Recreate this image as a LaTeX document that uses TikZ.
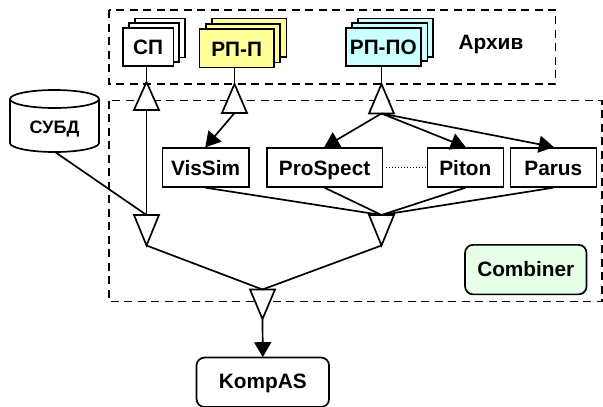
\documentclass[tikz,border=0pt]{standalone}
\usepackage{fontspec}
\setmainfont{Liberation Sans}
\usetikzlibrary{arrows.meta}
\definecolor{yelc}{HTML}{FFFF99}
\definecolor{cyac}{HTML}{CCFFFF}
\definecolor{grnc}{HTML}{E6FFE6}
\tikzset{
  x=1pt,y=-1pt,
  every node/.style={font=\bfseries\fontsize{20.8}{24}\selectfont,inner sep=0pt},
  ln/.style={line width=1.7pt,line join=miter},
  boxn/.style={draw,ln,fill=white,rectangle,text height=16pt,text depth=0pt},
  rbox/.style={draw,ln,rectangle,rounded corners=8pt,text height=13pt,text depth=0pt},
  grp/.style={draw,line width=1.5pt,dash pattern=on 8pt off 5.5pt},
  tri/.style={draw,ln,fill=white},
  conn/.style={ln},
  arr/.style={ln,-{Triangle[length=15pt,width=17pt]},shorten >=-0.5pt},
  yel/.style={fill=yelc},
  cya/.style={fill=cyac},
  grn/.style={fill=grnc}
}
\newcommand{\boxat}[7]{% name,left,top,right,bottom,style,text
  \node[boxn,#6,minimum width=#4pt-#2pt,minimum height=#5pt-#3pt,anchor=north west] (#1) at (#2,#3) {#7};}
\newcommand{\triup}[4]{% name,cx,apexy,basey
  \draw[tri] (#2-12.5,#4) -- (#2,#3) -- (#2+12.5,#4) -- cycle;
  \coordinate (#1a) at (#2,#3); \coordinate (#1b) at (#2,#4);}
\begin{document}
\begin{tikzpicture}
\useasboundingbox (0,0) rectangle (603,407);
% group frames
\draw[grp] (109,10) rectangle (555.5,84);
\draw[grp] (109,100.5) rectangle (602,301.5);
% document stacks
\boxat{sp3}{134}{17.5}{184}{56.5}{}{}
\boxat{sp2}{128}{22}{178}{61}{}{}
\boxat{sp}{122}{27}{172.5}{65}{}{СП}
\boxat{rpp3}{211}{17.5}{285.5}{56}{yel}{}
\boxat{rpp2}{205}{23}{279}{61.5}{yel}{}
\boxat{rpp}{198.5}{28}{273}{66.5}{yel}{РП-П}
\boxat{rpo3}{357}{17.5}{432}{56}{cya}{}
\boxat{rpo2}{351}{22}{426.5}{60}{cya}{}
\boxat{rpo}{345}{27}{420}{65}{cya}{РП-ПО}
\node (arch) at (491,45) {Архив};
% function boxes
\boxat{vis}{161.5}{147}{248}{186}{}{VisSim}
\boxat{pro}{266}{147}{381.5}{186}{}{ProSpect}
\boxat{pit}{426.5}{147}{502.5}{186}{}{Piton}
\boxat{par}{509.5}{147}{595.5}{186}{}{Parus}
\node[rbox,grn,minimum width=121.5pt,minimum height=49.5pt,anchor=north west] (comb) at (464.2,244) {Combiner};
\node[rbox,fill=white,minimum width=132.5pt,minimum height=49.5pt,anchor=north west] (komp) at (195.7,356.7) {KompAS};
% database
\draw[ln,fill=white] (10,99) -- (10,143) arc[start angle=180,end angle=360,x radius=44.5pt,y radius=9pt] -- (99,99);
\draw[ln,fill=white] (54.5,99) ellipse[x radius=44.5pt,y radius=9pt];
\node[font=\bfseries\fontsize{18}{20}\selectfont] (subd) at (54.5,129) {СУБД};
\coordinate (subdb) at (55,152);
% triangles
\triup{ts}{146.5}{82}{110}
\triup{tp}{234.5}{84}{113}
\triup{to}{381.5}{84}{113.5}
\triup{dl}{146.5}{245.5}{215}
\triup{dr}{381.5}{245.5}{215}
\triup{tk}{262.5}{319}{289.5}
% connectors
\draw[conn] (sp.south -| tsa) -- (tsa);
\draw[conn] (tsb) -- (dlb);
\draw[conn] (subdb) -- (dlb);
\draw[conn] (rpp.south -| tpa) -- (tpa);
\draw[conn] (rpo.south -| toa) -- (toa);
\draw[arr] (tpb) -- (vis.north);
\draw[arr] (tob) -- (pro.north);
\draw[arr] (tob) -- (pit.north);
\draw[arr] (tob) -- (par.north);
\draw[line width=1pt,dotted] (pro.east) ++(3,0) -- (pit.west);
\draw[conn] (vis.south) -- (drb);
\draw[conn] (pro.south) -- (drb);
\draw[conn] (pit.south) -- (drb);
\draw[conn] (par.south) -- (drb);
\draw[conn] (dla) -- (tkb);
\draw[conn] (dra) -- (tkb);
\draw[arr] (tka) -- (komp.north);
\end{tikzpicture}
\end{document}
